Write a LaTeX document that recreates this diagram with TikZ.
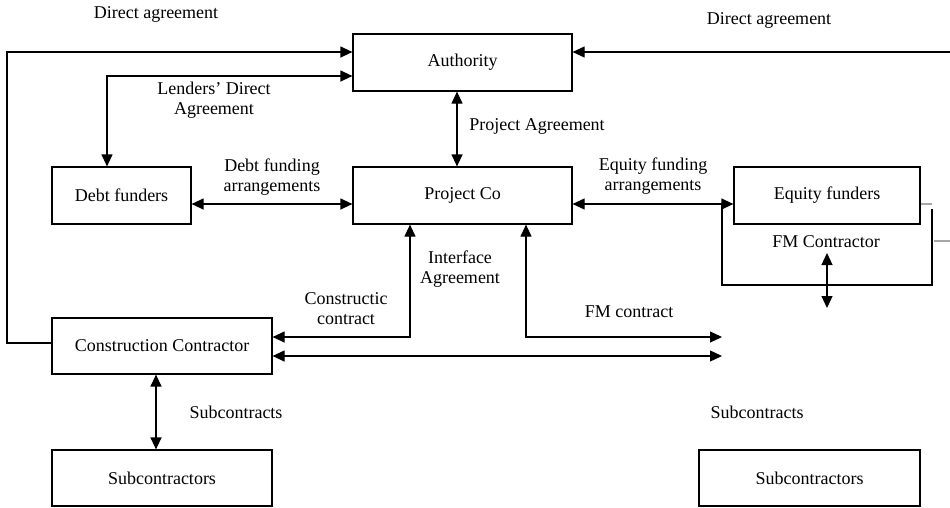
\documentclass[tikz,border=0pt]{standalone}
\usepackage{fontspec}
\setmainfont{Liberation Serif}
\usetikzlibrary{arrows.meta,calc}
\begin{document}
\begin{tikzpicture}[x=1pt,y=-1pt,
  box/.style={draw,line width=1.2pt,inner sep=0pt,font=\fontsize{18}{21}\selectfont},
  lbl/.style={inner sep=0pt,align=center,font=\fontsize{18}{20}\selectfont},
  conn/.style={line width=1.2pt},
  ghost/.style={line width=1.2pt,gray!70},
  >={Triangle[length=12pt,width=11pt]}]
\useasboundingbox (0,0) rectangle (950,507);
% boxes
\node[box,minimum width=219pt,minimum height=57pt] (auth) at (462.5,62.5) {Authority};
\node[box,minimum width=139pt,minimum height=57pt] (debt) at (121.5,195.5) {Debt funders};
\node[box,minimum width=219pt,minimum height=57pt] (pc) at (462.5,195.5) {Project Co};
\node[box,minimum width=186pt,minimum height=57pt] (eq) at (827,195.5) {Equity funders};
\node[box,minimum width=220pt,minimum height=56pt] (cc) at (162,346) {Construction Contractor};
\node[box,minimum width=220pt,minimum height=56pt] (subl) at (162,478) {Subcontractors};
\node[box,minimum width=221pt,minimum height=56pt] (subr) at (809.5,478) {Subcontractors};
% coordinates
\coordinate (tl1) at (7,52);
\coordinate (tl2) at (7,343);
\coordinate (tr) at (950,52);
\coordinate (ld) at (107,76);
\coordinate (pa) at (457,0);
\coordinate (yf) at (0,204);
\coordinate (fl1) at (722,204);
\coordinate (fl2) at (722,285);
\coordinate (fl3) at (932,285);
\coordinate (fl4) at (932,209);
\coordinate (fmt) at (827,253);
\coordinate (fmb) at (827,308);
\coordinate (ia) at (410,337);
\coordinate (fm1) at (526,337);
\coordinate (fm2) at (722,337);
\coordinate (bl) at (722,356);
\coordinate (sc) at (156,0);
\coordinate (st1) at (932,204);
\coordinate (st2) at (934,241);
\coordinate (st3) at (950,241);
% connectors
\draw[conn,->] (cc.west |- tl2) -- (tl2) -- (tl1) -- (auth.west |- tl1);
\draw[conn,->] (tr) -- (auth.east |- tr);
\draw[conn,<->] (debt.north -| ld) -- (ld) -- (auth.west |- ld);
\draw[conn,<->] (auth.south -| pa) -- (pc.north -| pa);
\draw[conn,<->] (debt.east |- yf) -- (pc.west |- yf);
\draw[conn,<->] (pc.east |- yf) -- (eq.west |- yf);
\draw[conn] (fl1) -- (fl2) -- (fl3) -- (fl4);
\draw[ghost] (eq.east |- st1) -- (st1);
\draw[ghost] (st2) -- (st3);
\draw[conn,<->] (fmt) -- (fmb);
\draw[conn,<->] (pc.south -| ia) -- (ia) -- (cc.east |- ia);
\draw[conn,<->] (pc.south -| fm1) -- (fm1) -- (fm2);
\draw[conn,<->] (cc.east |- bl) -- (bl);
\draw[conn,<->] (cc.south -| sc) -- (subl.north -| sc);
% labels
\node[lbl] (l1) at (156,14) {Direct agreement};
\node[lbl] (l2) at (769,20) {Direct agreement};
\node[lbl] (l3) at (214,100) {Lenders' Direct\\Agreement};
\node[lbl] (l4) at (537,126) {Project Agreement};
\node[lbl] (l5) at (272,177) {Debt funding\\arrangements};
\node[lbl] (l6) at (653,176) {Equity funding\\arrangements};
\node[lbl] (l7) at (826,242) {FM Contractor};
\node[lbl] (l8) at (460,269) {Interface\\Agreement};
\node[lbl] (l9) at (346,309) {Constructic\\contract};
\node[lbl] (l10) at (629,312) {FM contract};
\node[lbl] (l11) at (236,412) {Subcontracts};
\node[lbl] (l12) at (757,412) {Subcontracts};
\end{tikzpicture}
\end{document}
